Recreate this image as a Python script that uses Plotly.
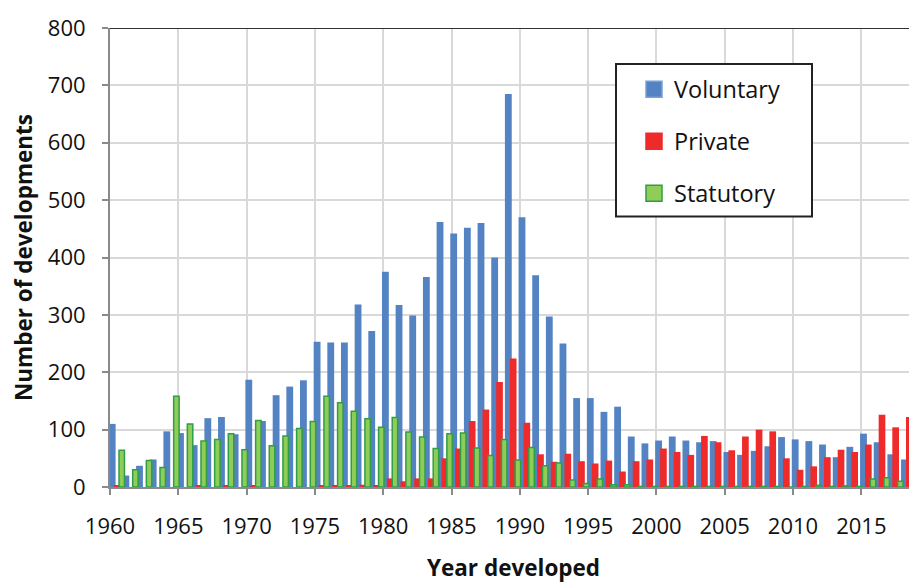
import plotly.graph_objects as go

years = list(range(1960, 2020))

voluntary = [110, 20, 37, 48, 97, 94, 73, 120, 122, 92,
             187, 115, 160, 175, 186, 253, 252, 252, 318, 272,
             375, 317, 299, 366, 462, 442, 452, 460, 400, 685,
             470, 369, 297, 250, 155, 155, 131, 140, 88, 76,
             81, 88, 81, 78, 80, 61, 56, 63, 71, 87,
             83, 80, 74, 52, 70, 93, 78, 57, 48, 48]

private = [2, 0, 0, 0, 0, 0, 2, 0, 2, 0,
           2, 0, 0, 0, 0, 3, 3, 2, 4, 3,
           15, 10, 15, 15, 50, 67, 115, 135, 183, 224,
           112, 57, 44, 58, 45, 41, 46, 27, 45, 48,
           67, 61, 56, 89, 78, 64, 88, 100, 97, 50,
           30, 36, 52, 65, 61, 74, 126, 104, 122, None]

statutory = [64, 30, 46, 34, 158, 110, 80, 83, 93, 65,
             116, 72, 89, 102, 114, 158, 147, 132, 119, 104,
             121, 96, 87, 67, 93, 94, 68, 55, 83, 47,
             69, 37, 42, 12, 6, 14, 4, 4, 1, 1,
             1, 1, 1, 1, 1, 1, 1, 1, 1, 0,
             1, 3, 1, 2, 1, 14, 16, 10, 14, None]

series_names = ["Voluntary", "Private", "Statutory"]

tick_years = list(range(1960, 2020, 5))
y_ticks = list(range(0, 801, 100))

FONT = "Open Sans"
TXT = "#111111"
BLUE, RED, GREEN, GREEN_LINE = "#5483c3", "#ee2a2a", "#8fcc58", "#2f9e47"

# page body has an 8px margin: lay out in screen pixels minus that offset
PAGE = 8
W, H = 917, 582
PLOT_L, PLOT_R, PLOT_T, PLOT_B = 110, 917, 27.5, 487.5   # screen px of plot area
ml, mt = PLOT_L - PAGE, PLOT_T - PAGE
mr = W - (PLOT_R - PAGE)
mb = H - (PLOT_B - PAGE)
pw, ph = PLOT_R - PLOT_L, PLOT_B - PLOT_T

def px_x(sx):
    return (sx - PLOT_L) / pw

def px_y(sy):
    return (PLOT_B - sy) / ph

fig = go.Figure()
fig.add_trace(go.Bar(x=years, y=voluntary, name=series_names[0], showlegend=False,
                     offset=-0.09, width=0.5,
                     marker=dict(color=BLUE, line=dict(width=0))))
fig.add_trace(go.Bar(x=years, y=private, name=series_names[1], showlegend=False,
                     offset=0.27, width=0.49,
                     marker=dict(color=RED, line=dict(width=0))))
fig.add_trace(go.Bar(x=years, y=statutory, name=series_names[2], showlegend=False,
                     offset=0.66, width=0.4,
                     marker=dict(color=GREEN, line=dict(color=GREEN_LINE, width=1.5))))

for nm, col, lc, grp in [(series_names[0], BLUE, "#7aa0d4", "a"),
                         (series_names[1], RED, RED, "b"),
                         (series_names[2], GREEN, GREEN_LINE, "c")]:
    fig.add_trace(go.Scatter(x=[None], y=[None], mode="markers", name=nm,
                             legendgroup=grp,
                             marker=dict(symbol="square", size=16, color=col,
                                         line=dict(color=lc, width=1.5))))

fig.update_layout(
    width=W, height=H,
    barmode="overlay",
    paper_bgcolor="white", plot_bgcolor="white",
    margin=dict(l=ml, r=mr, t=mt, b=mb, autoexpand=False),
    font=dict(family=FONT, size=22, color=TXT),
    showlegend=True,
    legend=dict(x=px_x(634), y=px_y(67), xanchor="left", yanchor="top",
                bgcolor="rgba(0,0,0,0)", borderwidth=0,
                tracegroupgap=18.5, traceorder="grouped", itemsizing="trace",
                font=dict(family=FONT, size=23.5, color=TXT)),
    xaxis=dict(range=[1960, 1960 + pw / 13.66], tickvals=tick_years,
               ticktext=[str(t) for t in tick_years], automargin=False,
               showgrid=True, gridcolor="#d9d9d9", gridwidth=1.5,
               showline=True, linecolor="#8a8a8a", linewidth=2,
               ticks="outside", ticklen=6, tickwidth=2, tickcolor="#8a8a8a",
               ticklabelstandoff=13, zeroline=False,
               title=dict(text="<b>Year developed</b>", standoff=21,
                          font=dict(family=FONT, size=22.5, color=TXT))),
    yaxis=dict(range=[0, 800], tickvals=y_ticks, automargin=False,
               showgrid=True, gridcolor="#d9d9d9", gridwidth=1.5,
               showline=True, linecolor="#8a8a8a", linewidth=2,
               ticks="outside", ticklen=6, tickwidth=2, tickcolor="#8a8a8a",
               ticklabelstandoff=12, zeroline=False,
               title=dict(text="<b>Number of developments</b>", standoff=9,
                          font=dict(family=FONT, size=22.5, color=TXT))),
    shapes=[
        dict(type="line", xref="paper", yref="y", x0=0, x1=1, y0=800, y1=800,
             line=dict(color="#333333", width=2), layer="above"),
        dict(type="rect", xref="paper", yref="paper",
             x0=px_x(616), x1=px_x(812), y0=px_y(216.5), y1=px_y(63.5),
             fillcolor="white", line=dict(color="#222222", width=2), layer="above"),
    ],
)

fig.write_html("out.html")
